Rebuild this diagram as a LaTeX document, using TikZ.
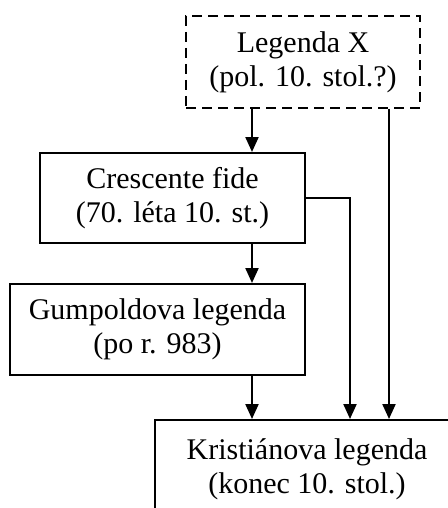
\documentclass[tikz,border=0pt]{standalone}
\usepackage{fontspec}
\setmainfont{Liberation Serif}
\usetikzlibrary{arrows.meta}

\tikzset{
	box/.style={draw,line width=1pt,align=center,inner sep=0pt,
		font=\fontsize{15}{17}\selectfont},
	arr/.style={line width=1.1pt,-{Triangle[width=6.5pt,length=7.5pt]}}
}

\begin{document}
\begin{tikzpicture}[x=0.5pt,y=-0.5pt]
		\useasboundingbox (0,0) rectangle (448,508);
		\clip (0,0) rectangle (448,508);
		\coordinate (colA) at (252,0);
		\coordinate (colB) at (350,0);
		\coordinate (colC) at (389,0);
		\node (legx) at (303,62) [box,dash pattern=on 5pt off 3pt,minimum width=117pt,minimum height=46pt] {Legenda X\\(pol. 10. stol.?)};
		\node (cresc) at (172.5,198) [box,minimum width=132.5pt,minimum height=45pt] {Crescente fide\\(70. léta 10. st.)};
		\node (gump) at (157.5,329.5) [box,minimum width=147.5pt,minimum height=45.5pt] {Gumpoldova legenda\\(po r. 983)};
		\node (krist) at (307,469) [box,minimum width=152pt,minimum height=49pt] {Kristiánova legenda\\(konec 10. stol.)};
		\draw[arr] (legx.south -| colA) -- (cresc.north -| colA);
		\draw[arr] (legx.south -| colC) -- (krist.north -| colC);
		\draw[arr] (cresc.south -| colA) -- (gump.north -| colA);
		\draw[arr] (cresc.east) -| (krist.north -| colB);
		\draw[arr] (gump.south -| colA) -- (krist.north -| colA);
\end{tikzpicture}
\end{document}
